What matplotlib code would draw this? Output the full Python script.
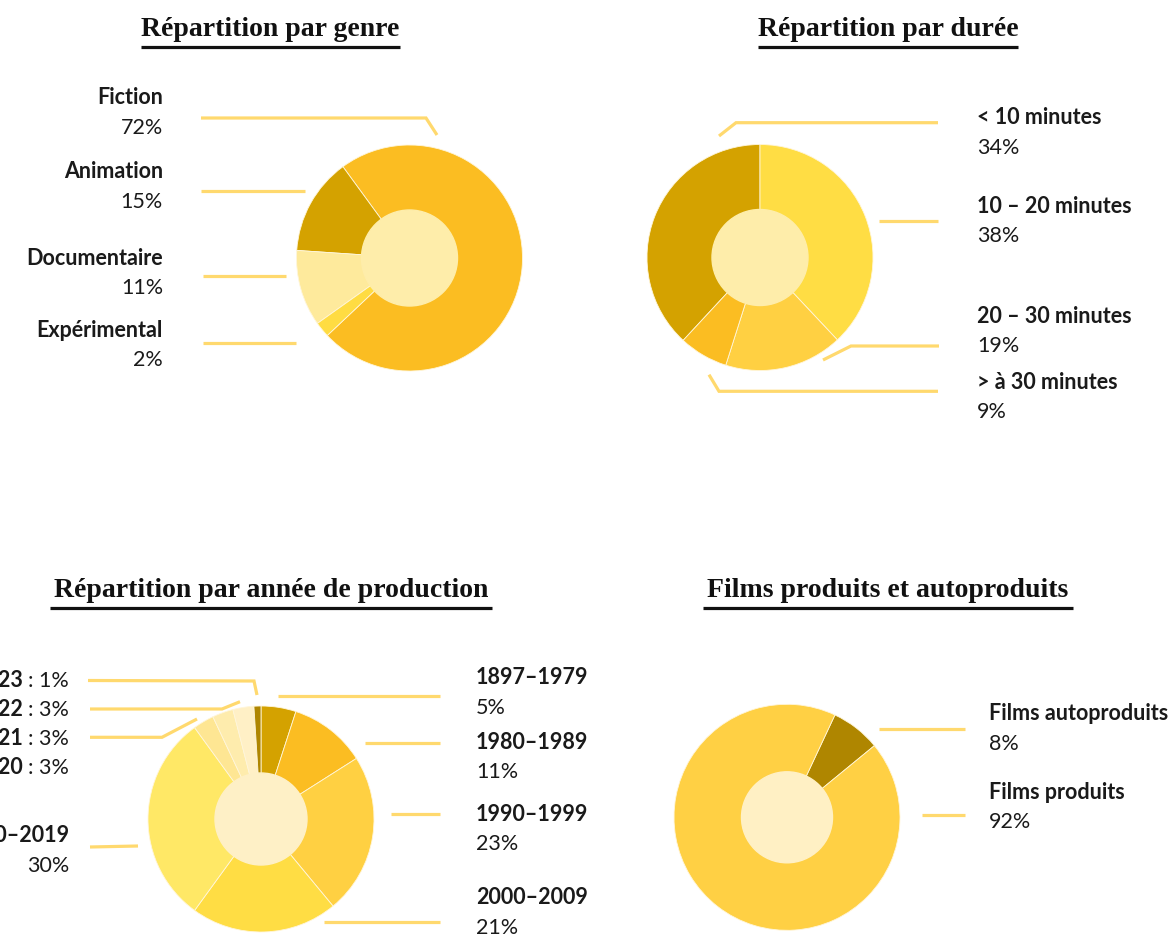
import matplotlib.pyplot as plt
from matplotlib.patches import Circle

W, H = 1170, 936

# Répartition par genre
genre_labels = ['Fiction', 'Animation', 'Documentaire', 'Expérimental']
genre_pct = ['72%', '15%', '11%', '2%']
genre_values = [73.0, 13.9, 10.9, 2.2]
genre_colors = ['#FBBD22', '#D4A200', '#FEEA9C', '#FFDC42']

# Répartition par durée
duree_labels = ['< 10 minutes', '10 – 20 minutes', '20 – 30 minutes', '> à 30 minutes']
duree_pct = ['34%', '38%', '19%', '9%']
duree_values = [38.1, 38.0, 16.9, 7.0]
duree_colors = ['#D4A200', '#FFDD44', '#FFD042', '#FBBD22']

# Répartition par année de production
annee_labels = ['1897–1979', '1980–1989', '1990–1999', '2000–2009', '2010–2019',
                '2020', '2021', '2022', '2023']
annee_values = [5, 11, 23, 21, 30, 3, 3, 3, 1]
annee_colors = ['#D4A200', '#FBBD22', '#FFD042', '#FFDD44', '#FFE866',
                '#FEE693', '#FEECAD', '#FFF0C6', '#AF8600']

# Films produits et autoproduits
films_labels = ['Films autoproduits', 'Films produits']
films_pct = ['8%', '92%']
films_values = [7.1, 92.9]
films_colors = ['#AF8600', '#FFD044']

SANS = 'Lato'
SERIF = 'Liberation Serif'
LINE = '#FFD96E'
FS = 15.5
R = 113

fig = plt.figure(figsize=(W / 100, H / 100), dpi=100)
ax = fig.add_axes([0, 0, 1, 1])


def donut(values, colors, cx, cy, r_in, inner, start, ccw=False):
    ax.pie(values, colors=colors, radius=R, center=(cx, H - cy),
           startangle=start, counterclock=ccw,
           wedgeprops=dict(linewidth=0.6, edgecolor='#FFF6DA'))
    ax.add_patch(Circle((cx, H - cy), r_in, color=inner, zorder=3))


def title(txt, x0, x1, y):
    ax.text((x0 + x1) / 2, H - y, txt, ha='center', va='baseline',
            fontsize=20, fontweight='bold', family=SERIF, color='#111111')
    ax.plot([x0, x1], [H - y - 10.5] * 2, color='#111111', lw=2.3,
            solid_capstyle='butt')


def label(x, y, name, pct, ha='left'):
    ax.text(x, H - y, name, ha=ha, va='baseline', fontsize=FS,
            fontweight='bold', family=SANS, color='#1a1a1a')
    ax.text(x, H - y - 29.5, pct, ha=ha, va='baseline', fontsize=FS,
            family=SANS, color='#1a1a1a')


def leader(xs, ys):
    ax.plot(xs, [H - y for y in ys], color=LINE, lw=2.3,
            solid_capstyle='butt', solid_joinstyle='miter')


# --- genre
donut(genre_values, genre_colors, 409.5, 258, 48, '#FEEDAA', 223.3, ccw=True)
title('Répartition par genre', 141, 400, 36)
for (y, n, p) in zip([104, 178, 265, 337], genre_labels, genre_pct):
    label(163, y, n, p, ha='right')
leader([201, 426, 437], [118, 118, 135])
leader([201, 305], [190.5, 190.5])
leader([203, 286], [275.5, 275.5])
leader([203, 296], [342.5, 342.5])

# --- durée
donut(duree_values, duree_colors, 760, 257.5, 48, '#FEEDAA',
      90 + duree_values[0] * 3.6)
title('Répartition par durée', 758, 1018, 36)
for (y, n, p) in zip([124, 213, 323, 389], duree_labels, duree_pct):
    label(977, y, n, p)
leader([938, 736, 719], [122.7, 122.7, 136])
leader([879, 938], [220.7, 220.7])
leader([939, 851, 823], [346, 346, 360])
leader([938, 719, 709], [391.3, 391.3, 374.7])

# --- année de production
donut(annee_values, annee_colors, 261, 819, 46, '#FEF0C6', 90)
title('Répartition par année de production', 50, 492, 597)
for (y, i) in zip([684, 749, 821, 904], range(4)):
    label(476, y, annee_labels[i], f'{annee_values[i]}%')
label(69, 842, annee_labels[4], f'{annee_values[4]}%', ha='right')
for (y, i) in zip([687, 716, 745, 774], [8, 7, 6, 5]):
    ax.text(23, H - y, annee_labels[i], ha='right', va='baseline', fontsize=FS,
            fontweight='bold', family=SANS, color='#1a1a1a')
    ax.text(28, H - y, f': {annee_values[i]}%', ha='left', va='baseline',
            fontsize=FS, family=SANS, color='#1a1a1a')
leader([88, 254, 257], [680.5, 681, 695])
leader([90, 222, 240], [709, 709, 701.7])
leader([90, 162, 197], [737.3, 737.3, 719])
leader([90, 138], [847, 846])
leader([278, 440], [695.7, 695.7])
leader([365, 440], [743.3, 743.3])
leader([391, 440], [814, 814])
leader([324, 440], [922, 922])

# --- films produits
donut(films_values, films_colors, 787, 817.3, 45.5, '#FFF0C4', 64.9)
title('Films produits et autoproduits', 703, 1073, 597)
for (y, n, p) in zip([720, 799], films_labels, films_pct):
    label(989, y, n, p)
leader([879, 965], [729.3, 729.3])
leader([922, 965], [815, 815])

ax.set_xlim(0, W)
ax.set_ylim(0, H)
ax.set_aspect('auto')
ax.axis('off')
fig.savefig('out.png', dpi=100, facecolor='white')
